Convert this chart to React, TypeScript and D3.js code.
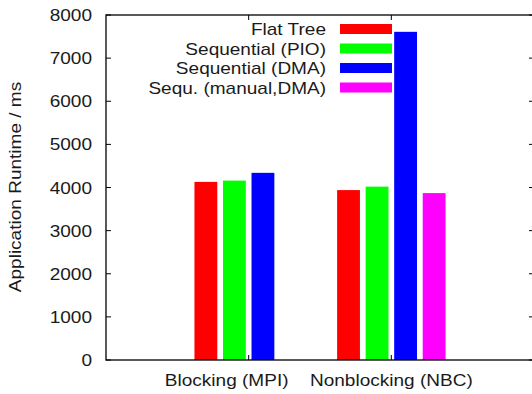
import * as d3 from "d3";

const groups = ["Blocking (MPI)", "Nonblocking (NBC)"];
const seriesNames = ["Flat Tree", "Sequential (PIO)", "Sequential (DMA)", "Sequ. (manual,DMA)"];
const seriesColors = ["#ff0000", "#00ff00", "#0000ff", "#ff00ff"];
const blocking = [4130, 4160, 4340, 0];
const nonblocking = [3940, 4020, 7610, 3870];
const yTicks = [0, 1000, 2000, 3000, 4000, 5000, 6000, 7000, 8000];

const W = 532;
const H = 394;
const FONT = "'Liberation Sans', Arial, Helvetica, sans-serif";
const SX = 1.12; // text stretch, source font renders wider
// the first category label sits left of its tick in the source
const labelShift = [-22, 0];

const App = () => {
  const x = d3.scaleLinear().domain([-1, 2]).range([106, 534]);
  const y = d3.scaleLinear().domain([0, 8000]).range([360, 15]);
  const values = [blocking, nonblocking];
  const slot = 0.2;
  const barW = x(0.16) - x(0);
  const tick = 5;

  const txt = (tx, ty, s, anchor, key, rot = 0) => (
    <g key={key} transform={`translate(${tx},${ty}) rotate(${rot}) scale(${SX},1)`}>
      <text x={0} y={0} textAnchor={anchor} fontSize={17} fontFamily={FONT} fill="#1a1a1a">
        {s}
      </text>
    </g>
  );

  return (
    <svg width={W} height={H} style={{ position: "absolute", left: 0, top: 0 }}>
      <rect x={0} y={0} width={W} height={H} fill="white" />
      {/* bars */}
      {values.map((vals, gi) =>
        vals.map((v, si) => {
          const cx = gi + (si - 1.5) * slot;
          return (
            <rect
              key={`b${gi}-${si}`}
              x={x(cx) - barW / 2}
              y={y(v)}
              width={barW}
              height={y(0) - y(v)}
              fill={seriesColors[si]}
            />
          );
        })
      )}
      {/* y ticks */}
      {yTicks.map((t) => (
        <g key={`yt${t}`}>
          <line x1={x(-1)} x2={x(-1) + tick} y1={y(t)} y2={y(t)} stroke="#000" />
          <line x1={x(2)} x2={x(2) - tick} y1={y(t)} y2={y(t)} stroke="#000" />
          {txt(92, y(t) + 6, String(t), "end", `yl${t}`)}
        </g>
      ))}
      {/* x ticks */}
      {groups.map((g, i) => (
        <g key={`xt${i}`}>
          <line x1={x(i)} x2={x(i)} y1={y(0)} y2={y(0) - tick} stroke="#000" />
          <line x1={x(i)} x2={x(i)} y1={y(8000)} y2={y(8000) + tick} stroke="#000" />
          {txt(x(i) + labelShift[i], 386, g, "middle", `xl${i}`)}
        </g>
      ))}
      {/* frame */}
      <rect
        x={x(-1)}
        y={y(8000)}
        width={x(2) - x(-1)}
        height={y(0) - y(8000)}
        fill="none"
        stroke="#000"
        strokeWidth={1.3}
      />
      {/* y label */}
      {txt(21, 187, "Application Runtime / ms", "middle", "ylab", -90)}
      {/* legend */}
      {seriesNames.map((s, i) => {
        const cy = 29 + i * 19.5;
        return (
          <g key={`lg${i}`}>
            <rect x={340} y={cy - 5} width={52} height={10} fill={seriesColors[i]} />
            {txt(326, cy + 6, s, "end", `lt${i}`)}
          </g>
        );
      })}
    </svg>
  );
};

export default App;
